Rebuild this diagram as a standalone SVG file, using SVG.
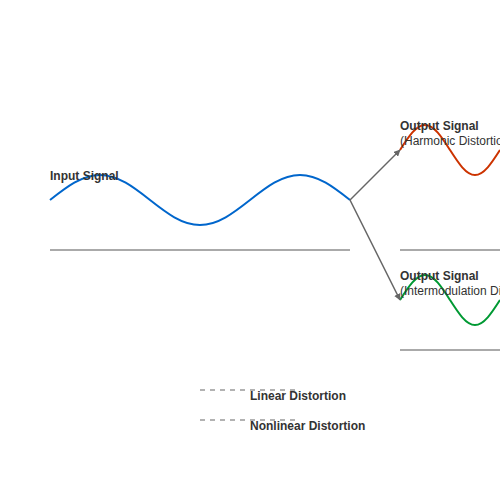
<svg xmlns="http://www.w3.org/2000/svg" width="500" height="500" viewBox="0 0 500 500">
<defs>
<style>
.lbl{font-family:"Liberation Sans",Arial,sans-serif;font-size:12px;fill:#333}
.b{font-weight:bold}
.axis{stroke:#aaa;stroke-width:2;fill:none}
.wave{fill:none;stroke-width:2}
.conn{stroke:#666;stroke-width:1.5;fill:none}
.leg{stroke:#999;stroke-width:1.5;stroke-dasharray:5,5;fill:none}
</style>
<marker id="arr" viewBox="0 0 10 10" refX="9" refY="5" markerWidth="4.5" markerHeight="4.5" orient="auto">
<path d="M0,0 L10,5 L0,10 z" fill="#666"/>
</marker>
</defs>
<rect width="500" height="500" fill="#fff"/>
<g id="axes">
<line class="axis" x1="50" y1="250" x2="350" y2="250"/>
<line class="axis" x1="400" y1="250" x2="500" y2="250"/>
<line class="axis" x1="400" y1="350" x2="500" y2="350"/>
</g>
<g id="input">
<path class="wave" stroke="#0066cc" d="M50,200 C66.3,187.2 81.9,175 100,175 C118.1,175 133.7,187.2 150,200 C166.3,212.8 181.9,225 200,225 C218.1,225 233.7,212.8 250,200 C266.3,187.2 281.9,175 300,175 C318.1,175 333.7,187.2 350,200"/>
<text class="lbl b" x="50" y="180">Input Signal</text>
</g>
<g id="harmonic">
<path class="wave" stroke="#cc3300" d="M400,150 C408.2,137.2 416,125 425,125 C434,125 441.8,137.2 450,150 C458.2,162.8 466,175 475,175 C484,175 491.8,162.8 500,150"/>
<text class="lbl b" x="400" y="130">Output Signal</text>
<text class="lbl" x="400" y="145">(Harmonic Distortion)</text>
</g>
<g id="intermod">
<path class="wave" stroke="#009933" d="M400,300 C408.2,287.2 416,275 425,275 C434,275 441.8,287.2 450,300 C458.2,312.8 466,325 475,325 C484,325 491.8,312.8 500,300"/>
<text class="lbl b" x="400" y="280">Output Signal</text>
<text class="lbl" x="400" y="295">(Intermodulation Distortion)</text>
</g>
<g id="connectors">
<line class="conn" x1="350" y1="200" x2="400" y2="150" marker-end="url(#arr)"/>
<line class="conn" x1="350" y1="200" x2="400" y2="300" marker-end="url(#arr)"/>
</g>
<g id="legend">
<line class="leg" x1="200" y1="390" x2="295" y2="390"/>
<text class="lbl b" x="250" y="400">Linear Distortion</text>
<line class="leg" x1="200" y1="420" x2="295" y2="420"/>
<text class="lbl b" x="250" y="430">Nonlinear Distortion</text>
</g>
</svg>
